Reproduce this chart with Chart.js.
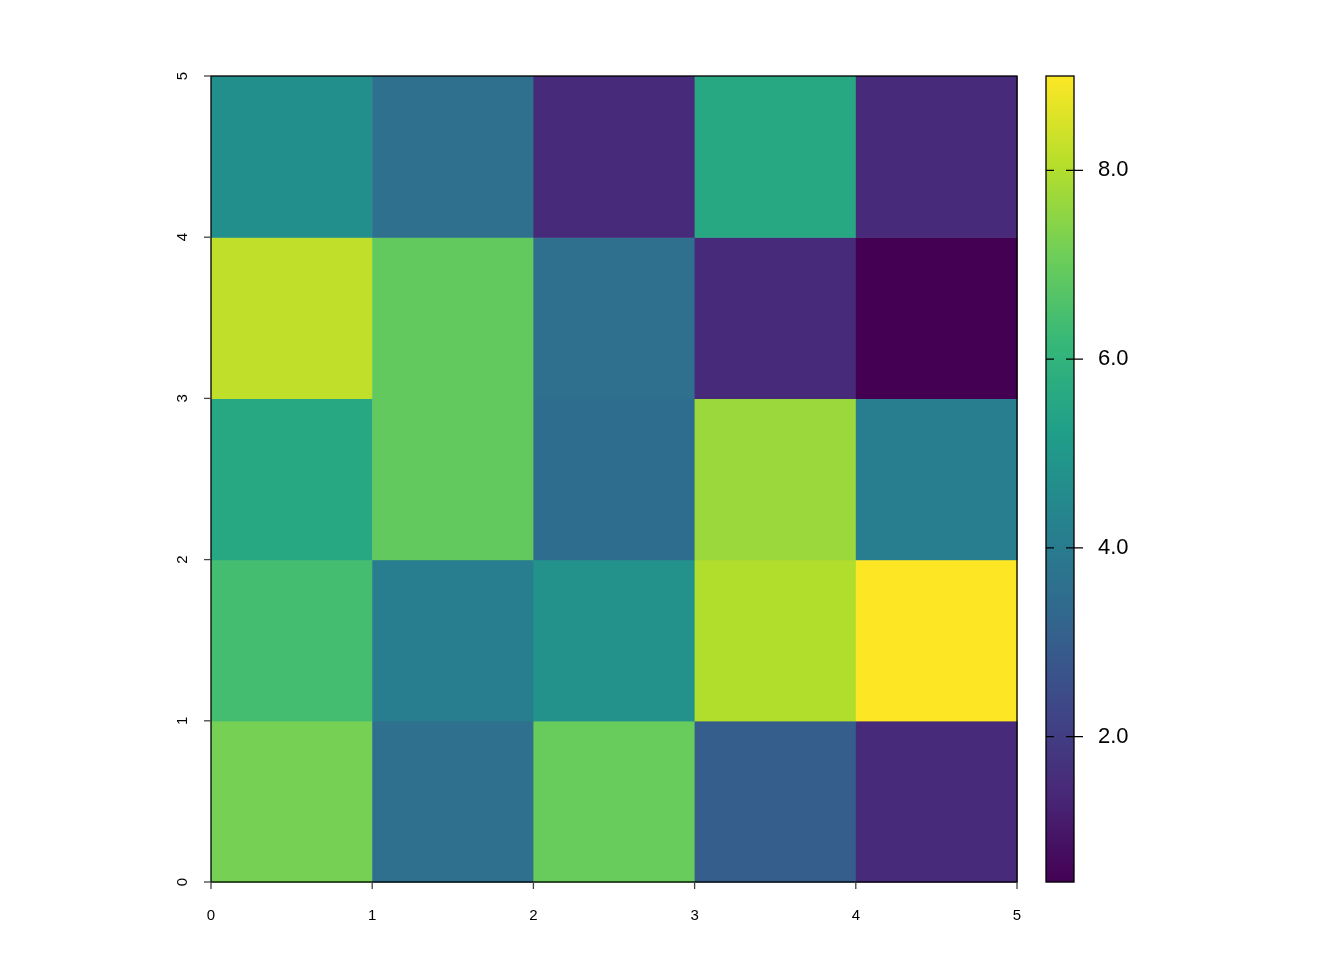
<!DOCTYPE html>
<html><head><meta charset="utf-8">
<script src="https://cdn.jsdelivr.net/npm/chart.js@4/dist/chart.umd.min.js"></script>
<style>body{margin:0;background:#fff}#w{width:1344px;height:960px}</style>
</head><body><div id="w"><canvas id="c"></canvas></div>
<script>
// Rows from bottom (y 0-1) to top (y 4-5), columns x 0..5
const xCategories = [0,1,2,3,4];
const yCategories = [0,1,2,3,4];
const row0 = [7.2, 3.6, 7.0, 3.0, 1.5];
const row1 = [6.4, 4.1, 4.8, 8.0, 9.0];
const row2 = [5.6, 6.9, 3.5, 7.7, 4.1];
const row3 = [8.2, 6.9, 3.6, 1.5, 0.46];
const row4 = [4.7, 3.6, 1.5, 5.6, 1.5];
const axisTicks = [0,1,2,3,4,5];
const legendTicks = [2,4,6,8];
const vMin = 0.46, vMax = 9.0;

const VIR = ['#440154','#482878','#3e4989','#31688e','#26828e','#1f9e89','#35b779','#6ece58','#b5de2b','#fde725'];
function hex(h){return [1,3,5].map(i=>parseInt(h.substr(i,2),16));}
function viridis(t){t=Math.max(0,Math.min(1,t));const p=t*(VIR.length-1),i=Math.min(Math.floor(p),VIR.length-2),f=p-i;
 const a=hex(VIR[i]),b=hex(VIR[i+1]);return 'rgb('+a.map((v,k)=>Math.round(v+(b[k]-v)*f)).join(',')+')';}
const rows=[row0,row1,row2,row3,row4];
const pts=[];rows.forEach((r,yi)=>r.forEach((v,xi)=>pts.push({x:xCategories[xi]+0.5,y:yCategories[yi]+0.5,v})));

const heat={id:'heat',afterDatasetsDraw(ch){
 const ctx=ch.ctx,x=ch.scales.x,y=ch.scales.y,c=ch.scales.c;
 ctx.save();
 pts.forEach(p=>{const x0=x.getPixelForValue(p.x-0.5),x1=x.getPixelForValue(p.x+0.5),y0=y.getPixelForValue(p.y+0.5),y1=y.getPixelForValue(p.y-0.5);
  ctx.fillStyle=viridis((p.v-vMin)/(vMax-vMin));ctx.fillRect(x0,y0,x1-x0+0.6,y1-y0+0.6);});
 const L=x.getPixelForValue(0),R=x.getPixelForValue(5),T=y.getPixelForValue(5),B=y.getPixelForValue(0);
 ctx.strokeStyle='#000';ctx.lineWidth=1.3;ctx.strokeRect(L,T,R-L,B-T);
 ctx.fillStyle='#000';ctx.font='15px "Liberation Sans", Arial';ctx.strokeStyle='#444';
 axisTicks.forEach(t=>{const px=x.getPixelForValue(t);ctx.beginPath();ctx.moveTo(px,B);ctx.lineTo(px,B+7);ctx.stroke();
  ctx.textAlign='center';ctx.textBaseline='top';ctx.fillText(String(t),px,B+26);
  const py=y.getPixelForValue(t);ctx.beginPath();ctx.moveTo(L,py);ctx.lineTo(L-7,py);ctx.stroke();
  ctx.save();ctx.translate(L-26,py);ctx.rotate(-Math.PI/2);ctx.textBaseline='bottom';ctx.fillText(String(t),0,5);ctx.restore();});
 // colorbar
 const cl=1046,cr=1074,ct=c.getPixelForValue(vMax),cb=c.getPixelForValue(vMin);
 for(let py=Math.floor(ct);py<cb;py++){ctx.fillStyle=viridis((c.getValueForPixel(py+0.5)-vMin)/(vMax-vMin));ctx.fillRect(cl,py,cr-cl,1.2);}
 ctx.strokeStyle='#000';ctx.lineWidth=1.3;ctx.strokeRect(cl,ct,cr-cl,cb-ct);
 ctx.fillStyle='#000';ctx.font='22px "Liberation Sans", Arial';ctx.textAlign='left';ctx.textBaseline='middle';
 legendTicks.forEach(v=>{const py=c.getPixelForValue(v);ctx.beginPath();ctx.moveTo(cl,py);ctx.lineTo(cl+8,py);ctx.moveTo(cr-8,py);ctx.lineTo(cr+9,py);ctx.stroke();
  ctx.fillText(v.toFixed(1),1098,py);});
 ctx.restore();}};

new Chart(document.getElementById('c'),{type:'scatter',
 data:{datasets:[{data:pts,pointRadius:0}]},
 options:{responsive:true,maintainAspectRatio:false,animation:false,events:[],
  layout:{padding:{left:211,right:327,top:76,bottom:78}},
  plugins:{legend:{display:false},tooltip:{enabled:false}},
  scales:{x:{type:'linear',min:0,max:5,display:false},y:{type:'linear',min:0,max:5,display:false},
   c:{type:'linear',min:vMin,max:vMax,display:false,position:'right'}}},
 plugins:[heat]});
</script></body></html>
